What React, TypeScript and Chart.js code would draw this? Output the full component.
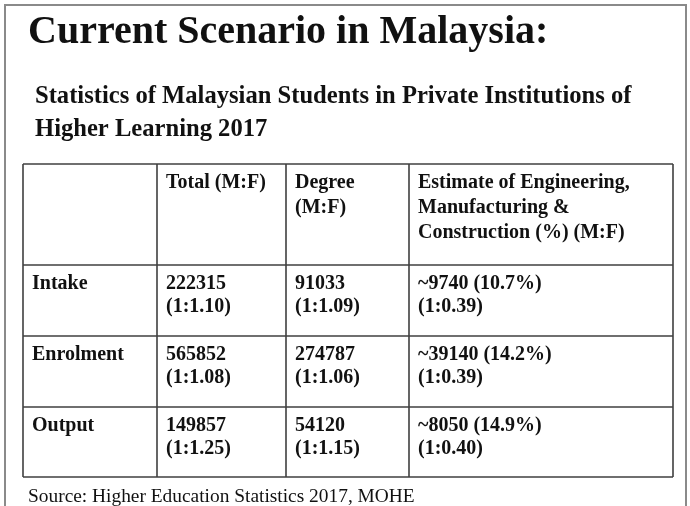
import React, { useEffect, useRef } from "react";
import { Chart, registerables } from "chart.js";

Chart.register(...registerables);

const pageTitle = "Current Scenario in Malaysia:";
const subtitleLines = [
  "Statistics of Malaysian Students in Private Institutions of",
  "Higher Learning 2017",
];
const columnHeaders: string[][] = [
  [],
  ["Total (M:F)"],
  ["Degree", "(M:F)"],
  ["Estimate of Engineering,", "Manufacturing &", "Construction (%) (M:F)"],
];
const rowLabels = ["Intake", "Enrolment", "Output"];
const totalStudents = [222315, 565852, 149857];
const totalRatios = ["1.10", "1.08", "1.25"];
const degreeStudents = [91033, 274787, 54120];
const degreeRatios = ["1.09", "1.06", "1.15"];
const engEstimates = [9740, 39140, 8050];
const engPercents = ["10.7", "14.2", "14.9"];
const engRatios = ["0.39", "0.39", "0.40"];
const sourceNote = "Source: Higher Education Statistics 2017, MOHE";

const SERIF = '"Liberation Serif", "Times New Roman", serif';

const tablePlugin = {
  id: "tableSlide",
  beforeDraw(chart: any) {
    const ctx: CanvasRenderingContext2D = chart.ctx;
    const sx = chart.scales.x;
    const sy = chart.scales.y;
    const X = (v: number) => sx.getPixelForValue(v);
    const Y = (v: number) => sy.getPixelForValue(v);

    ctx.save();
    ctx.fillStyle = "#ffffff";
    ctx.fillRect(0, 0, chart.width, chart.height);

    // outer frame
    ctx.strokeStyle = "#8a8a8a";
    ctx.lineWidth = 2;
    ctx.beginPath();
    ctx.moveTo(X(5), Y(510));
    ctx.lineTo(X(5), Y(5));
    ctx.lineTo(X(686), Y(5));
    ctx.lineTo(X(686), Y(510));
    ctx.stroke();

    const drawText = (text: string, x: number, y: number, font: string) => {
      ctx.font = font;
      ctx.fillText(text, X(x), Y(y));
    };

    ctx.fillStyle = "#111111";
    ctx.textBaseline = "alphabetic";
    ctx.textAlign = "left";

    // title
    drawText(pageTitle, 28, 43, `bold 40px ${SERIF}`);

    // subtitle
    const subFont = `bold 24.6px ${SERIF}`;
    drawText(subtitleLines[0], 35, 103, subFont);
    drawText(subtitleLines[1], 35, 136, subFont);

    // table grid
    const colEdges = [23, 157, 286, 409, 673];
    const rowEdges = [164, 265, 336, 407, 477];
    ctx.strokeStyle = "#404040";
    ctx.lineWidth = 1.6;
    ctx.beginPath();
    colEdges.forEach((c) => {
      ctx.moveTo(X(c), Y(rowEdges[0]));
      ctx.lineTo(X(c), Y(rowEdges[rowEdges.length - 1]));
    });
    rowEdges.forEach((r) => {
      ctx.moveTo(X(colEdges[0]), Y(r));
      ctx.lineTo(X(colEdges[colEdges.length - 1]), Y(r));
    });
    ctx.stroke();

    const cellFont = `bold 20px ${SERIF}`;
    const padX = 9;
    // header
    columnHeaders.forEach((lines, ci) => {
      lines.forEach((ln, li) => {
        drawText(ln, colEdges[ci] + padX, rowEdges[0] + 24 + li * 25, cellFont);
      });
    });
    // body
    rowLabels.forEach((label, ri) => {
      const top = rowEdges[ri + 1];
      const cells: string[][] = [
        [label],
        [String(totalStudents[ri]), `(1:${totalRatios[ri]})`],
        [String(degreeStudents[ri]), `(1:${degreeRatios[ri]})`],
        [`~${engEstimates[ri]} (${engPercents[ri]}%)`, `(1:${engRatios[ri]})`],
      ];
      cells.forEach((lines, ci) => {
        lines.forEach((ln, li) => {
          drawText(ln, colEdges[ci] + padX, top + 24 + li * 23, cellFont);
        });
      });
    });

    // source
    drawText(sourceNote, 28, 502, `19.4px ${SERIF}`);
    ctx.restore();
  },
};

export default function App() {
  const ref = useRef<HTMLCanvasElement | null>(null);
  useEffect(() => {
    if (!ref.current) return;
    const chart = new Chart(ref.current, {
      type: "scatter",
      data: { datasets: [{ data: [], showLine: false }] },
      options: {
        animation: false,
        responsive: false,
        devicePixelRatio: 1,
        layout: { padding: 0 },
        plugins: { legend: { display: false }, tooltip: { enabled: false } },
        scales: {
          x: { type: "linear", min: 0, max: 690, display: false },
          y: { type: "linear", min: 0, max: 506, reverse: true, display: false },
        },
      },
      plugins: [tablePlugin],
    });
    return () => chart.destroy();
  }, []);
  return (
    <div style={{ position: "absolute", left: 0, top: 0, width: 690, height: 506 }}>
      <canvas ref={ref} width={690} height={506} />
    </div>
  );
}
